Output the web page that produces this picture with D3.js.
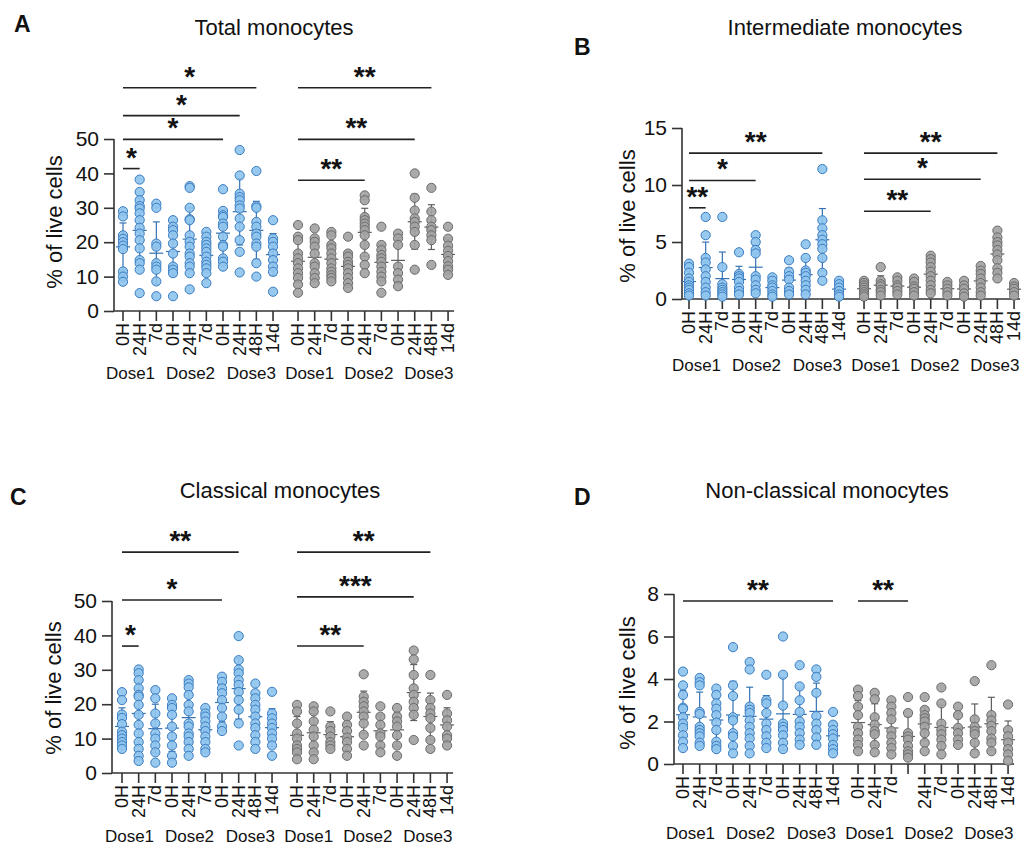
<!DOCTYPE html>
<html><head><meta charset="utf-8">
<script src="https://cdn.jsdelivr.net/npm/d3@7"></script>
<style>
body{margin:0;background:#fff;}
svg{display:block;}
text{font-family:Arial,"Liberation Sans",sans-serif;fill:#111;}
</style>
</head><body>
<svg id="chart" width="1023" height="850"></svg>
<script>
// ---------------- DATA ----------------
const timeLabels = ["0H","24H","7d","0H","24H","7d","0H","24H","48H","14d"];
const timeLabelsNonClassicalGrey = ["0H","24H","7d","","24H","7d","0H","24H","48H","14d"];
const doseLabels = ["Dose1","Dose2","Dose3"];

// Total monocytes (% of live cells)
const totalBlue = [
  [29,27.5,22,21,20,19,18,11.5,10,8.5],
  [38.2,34.6,32.2,30.5,29.8,28.4,26.4,24.2,22.5,20.6,18.2,14.8,13.9,12,5.2],
  [31.2,30,19.6,18.7,13.9,12.9,12,8.6,4.3],
  [26.4,24.5,23.5,22,19.6,16.7,12.9,12,11,4.3],
  [36.3,35.8,30,26.7,26.4,22,20.1,18.7,16.7,15.8,13.9,12.9,11,6.3],
  [23,21.6,20.1,19.2,18.2,17.2,15.8,14.3,13.4,12.4,11,8.1],
  [35.4,29.1,27.8,27.3,25.4,24.5,21.6,19.2,18.7,15.3,14.3,12.9],
  [46.8,39.4,34.1,33.1,32.2,30.7,29.8,26.9,24.5,20.6,17.2,11.2],
  [40.7,30.5,30,25.9,24.5,22.5,21.6,19.6,18.7,13.9,10],
  [26.4,21.1,20.1,18.7,16.7,14.8,12.9,11.4,5.6]
];
const totalGrey = [
  [25,21.6,20.6,16.7,15.3,13.9,12.4,11,9.6,7.7,5.3],
  [24,21.1,20.1,18.7,16.7,13.9,12.9,11,9.6,8.1],
  [23,22,19.2,18.2,16.7,15.3,13.9,12.4,11.4,10.4,9.6,8.6],
  [21.6,16.7,15.8,14.3,13.4,12.4,11,9.6,8.1,6.7],
  [33.6,32.2,27.3,26.4,25.4,24.5,23.5,22,19.2,15.8,13.4,11],
  [24.5,19.2,17.7,16.3,15.3,14.3,12.9,11.4,10,8.6,5.3],
  [22.5,21.1,19.2,12.9,11,9.1,7.2],
  [40,32.9,29.2,26.9,25.9,24.5,23,19.2,12],
  [35.8,28.9,26.4,24.5,23.5,22,20.6,13.4],
  [24.5,21,19,17.5,16,14.5,13,12,10.5]
];
// Intermediate monocytes
const interBlue = [
  [3.1,2.8,2.3,1.8,1.5,1.2,1.0,0.8,0.5,0.3],
  [7.2,5.6,3.6,3.2,2.6,2.0,1.5,1.0,0.6,0.3],
  [7.2,2.8,1.3,1.0,0.8,0.6,0.4,0.2],
  [4.1,2.2,2.0,1.8,1.5,1.0,0.7,0.4],
  [5.6,5.0,4.3,4.0,2.0,1.7,1.2,0.8,0.5],
  [1.9,1.6,1.2,1.0,0.7,0.4,0.2],
  [3.4,2.4,2.0,1.7,1.0,0.7,0.4],
  [4.8,3.6,2.5,2.3,2.0,1.6,1.2,0.8,0.4],
  [11.4,6.9,6.2,5.6,5.2,4.8,4.4,3.6,2.3,1.6],
  [1.6,1.3,1.0,0.7,0.4,0.2]
];
const interGrey = [
  [1.6,1.4,1.2,1.0,0.8,0.6,0.4,0.2],
  [2.8,1.6,1.3,1.1,0.8,0.6,0.3],
  [1.9,1.6,1.2,1.0,0.7,0.4],
  [1.8,1.5,1.1,0.9,0.6,0.3],
  [3.8,3.5,3.2,2.8,2.4,2.0,1.6,1.2,0.8,0.5],
  [1.5,1.2,0.9,0.6,0.3],
  [1.6,1.2,0.9,0.5,0.2],
  [2.9,2.5,2.2,1.8,1.4,1.0,0.6,0.3],
  [6.0,5.4,5.0,4.7,4.3,3.9,3.4,2.7,2.3,1.8],
  [1.4,1.1,0.9,0.6,0.3]
];
// Classical monocytes
const classBlue = [
  [23.5,21.2,17,16,14.2,12,11,10,9,8,7],
  [30.1,29,27,24.6,22.7,22.2,19.8,16.9,14,11.5,9,7,5,3.5],
  [24.1,21.7,17.3,14.4,11.5,10,8,6,3],
  [21.7,19.8,18.9,16.9,13.5,10.6,8,5,3],
  [27,26,24.9,22.7,19.8,17.9,14.4,13.5,11.5,10.6,9,7,5],
  [18.9,17.3,16.4,15,13.5,12.2,10.6,9,7,6],
  [28,26.5,24.6,23.2,21.2,18.9,16.4,13.5,12.2],
  [39.8,32.8,30.1,29,27,25.6,23.6,21.2,18.4,14.4,8],
  [26,23.2,21.7,19.8,18.4,16.4,14.4,13.1,11,9,7],
  [23.6,17.3,15.9,14.4,13.1,11.5,10,8,5]
];
const classGrey = [
  [19.8,17.9,14.4,11.5,10,8,7,6,4],
  [19.4,17.9,15,12.6,10.6,8,6,4],
  [17.9,13.5,12.2,10.6,9,8,7],
  [16.4,14,12.2,10.3,9,7,5],
  [28.7,22.2,20.7,19.4,17.9,16.4,14.4,11.1,8],
  [19.4,16.4,14,11.5,10.6,8,6],
  [18.9,16.4,15,13.5,11,8,5],
  [35.6,33,28.5,24.6,22.7,20.7,18.9,16.9,9.6],
  [28.5,21.2,18.9,17.3,15.9,13.1,9.6,7],
  [22.7,17.3,15.3,13.5,11,10,8]
];
// Non-classical monocytes
const nonBlue = [
  [4.35,3.7,3.25,2.65,2.6,2.2,1.9,1.7,1.35,1.05,0.75],
  [4.05,3.85,3.7,2.45,2.35,1.75,1.6,1.45,1.3,1.0,0.85],
  [3.55,3.25,2.85,2.6,2.3,1.95,1.6,1.05,0.85,0.7],
  [5.5,3.7,3.2,2.2,2.05,1.45,1.3,0.85,0.5],
  [4.8,4.45,2.7,2.55,2.4,2.05,1.75,1.45,1.2,0.85,0.5],
  [4.2,3.0,2.85,2.4,1.9,1.6,1.3,1.0,0.75],
  [6.0,4.2,2.75,1.9,1.75,1.6,1.35,1.0,0.7],
  [4.65,3.65,3.0,2.45,2.0,1.75,1.45,1.15,0.9],
  [4.45,4.1,3.35,2.25,1.9,1.6,1.25,0.9],
  [2.45,1.85,1.6,1.4,1.2,0.9,0.7,0.5]
];
const nonGrey = [
  [3.5,3.2,2.7,2.3,1.75,1.45,1.15,0.9,0.6],
  [3.35,3.05,2.2,1.85,1.55,1.4,0.9,0.55],
  [3.0,2.7,2.4,2.1,1.55,1.3,1.0,0.75,0.45],
  [3.15,2.4,1.45,1.3,1.15,0.85,0.6,0.45,0.3],
  [3.15,2.55,2.3,2.15,2.0,1.75,1.45,1.0,0.6],
  [3.6,2.85,1.9,1.6,1.4,1.15,0.85,0.45],
  [2.7,2.3,1.7,1.45,1.15,0.9],
  [3.9,2.1,1.75,1.55,1.4,1.0,0.5],
  [4.65,2.3,2.05,1.8,1.55,1.2,1.0,0.6],
  [2.8,1.6,1.3,1.0,0.7,0.45,0.15]
];

// significance brackets: group, from column, to column, level (data units), label
const totalSig = [
  {group:"blue",from:0,to:1,level:41.4,label:"*"},
  {group:"blue",from:0,to:6,level:49.9,label:"*"},
  {group:"blue",from:0,to:7,level:56.8,label:"*"},
  {group:"blue",from:0,to:8,level:64.9,label:"*"},
  {group:"grey",from:0,to:4,level:38.0,label:"**"},
  {group:"grey",from:0,to:7,level:49.9,label:"**"},
  {group:"grey",from:0,to:8,level:64.9,label:"**"}
];
const interSig = [
  {group:"blue",from:0,to:1,level:8.0,label:"**"},
  {group:"blue",from:0,to:4,level:10.4,label:"*"},
  {group:"blue",from:0,to:8,level:12.8,label:"**"},
  {group:"grey",from:0,to:4,level:7.7,label:"**"},
  {group:"grey",from:0,to:7,level:10.5,label:"*"},
  {group:"grey",from:0,to:8,level:12.8,label:"**"}
];
const classSig = [
  {group:"blue",from:0,to:1,level:36.9,label:"*"},
  {group:"blue",from:0,to:6,level:50.3,label:"*"},
  {group:"blue",from:0,to:7,level:64.2,label:"**"},
  {group:"grey",from:0,to:4,level:36.9,label:"**"},
  {group:"grey",from:0,to:7,level:51.2,label:"***"},
  {group:"grey",from:0,to:8,level:64.2,label:"**"}
];
const nonSig = [
  {group:"blue",from:0,to:9,level:7.67,label:"**"},
  {group:"grey",from:0,to:3,level:7.67,label:"**"}
];

const totalTicks = [0,10,20,30,40,50];
const interTicks = [0,5,10,15];
const classTicks = [0,10,20,30,40,50];
const nonTicks = [0,2,4,6,8];

// ---------------- LAYOUT / STYLE ----------------
const doseLabelCols = {blue:[0.45, 4.05, 7.7], grey:[0.7, 4.25, 7.85]};   // label centres, in column units
const colors = {
  blue:{fill:"#8fc4ee", stroke:"#3a7cc0", bar:"#3572b3"},
  grey:{fill:"#a3a3a3", stroke:"#6b6b6b", bar:"#5e5e5e"}
};
const panels = [
  {letter:"A", title:"Total monocytes", blue:totalBlue, grey:totalGrey, ticks:totalTicks, sig:totalSig,
   greyLabels:timeLabels,
   L:{axisX:114,y0:311,yTop:139,x0:123,step:16.67,letterX:14,letterY:32,titleX:274,titleY:35,ylx:54,yly:222,doseY:379}},
  {letter:"B", title:"Intermediate monocytes", blue:interBlue, grey:interGrey, ticks:interTicks, sig:interSig,
   greyLabels:timeLabels,
   L:{axisX:682,y0:299,yTop:128,x0:689,step:16.67,letterX:574,letterY:55,titleX:845,titleY:35,ylx:627,yly:216,doseY:371}},
  {letter:"C", title:"Classical monocytes", blue:classBlue, grey:classGrey, ticks:classTicks, sig:classSig,
   greyLabels:timeLabels,
   L:{axisX:112,y0:773,yTop:601,x0:122,step:16.67,letterX:10,letterY:505,titleX:280,titleY:498,ylx:53,yly:688,doseY:842}},
  {letter:"D", title:"Non-classical monocytes", blue:nonBlue, grey:nonGrey, ticks:nonTicks, sig:nonSig,
   greyLabels:timeLabelsNonClassicalGrey,
   L:{axisX:674,y0:764,yTop:594,x0:683,step:16.67,letterX:574,letterY:505,titleX:827,titleY:498,ylx:627,yly:683,doseY:839}}
];

const svg = d3.select("#chart");
const GROUP_OFFSET = 10.5;

panels.forEach(p => {
  const L = p.L;
  const g = svg.append("g");
  const yMax = d3.max(p.ticks);
  const y = d3.scaleLinear().domain([0, yMax]).range([L.y0, L.yTop]);
  const x = d3.scaleLinear().domain([0, 1]).range([L.x0, L.x0 + L.step]);
  const colX = (group, i) => x(group === "blue" ? i : i + GROUP_OFFSET);
  const lastX = colX("grey", 9);

  // letter and title
  g.append("text").attr("x", L.letterX).attr("y", L.letterY).attr("font-size", 23).attr("font-weight", "bold").text(p.letter);
  g.append("text").attr("x", L.titleX).attr("y", L.titleY).attr("font-size", 22).attr("text-anchor", "middle").text(p.title);

  // y axis
  const yAxis = d3.axisLeft(y).tickValues(p.ticks).tickSize(10).tickPadding(5);
  const ya = g.append("g").attr("transform", `translate(${L.axisX},0)`).call(yAxis);
  ya.select(".domain").attr("d", `M0,${L.y0}V${L.yTop}`).attr("stroke", "#333").attr("stroke-width", 1.6);
  ya.selectAll(".tick line").attr("stroke", "#333").attr("stroke-width", 1.6);
  ya.selectAll(".tick text").attr("font-size", 21).attr("fill", "#111").style("font-family", "Arial, 'Liberation Sans', sans-serif");

  // y label
  g.append("text").attr("transform", `translate(${L.ylx},${L.yly}) rotate(-90)`)
    .attr("text-anchor", "middle").attr("dominant-baseline", "central").attr("font-size", 22).text("% of live cells");

  // x axis line
  g.append("line").attr("x1", L.axisX).attr("x2", lastX + 6).attr("y1", L.y0).attr("y2", L.y0)
    .attr("stroke", "#333").attr("stroke-width", 1.6);

  ["blue","grey"].forEach(group => {
    const data = p[group];
    const c = colors[group];
    const labels = group === "blue" ? timeLabels : p.greyLabels;
    // ticks + labels
    labels.forEach((lab, i) => {
      const cx = colX(group, i);
      g.append("line").attr("x1", cx).attr("x2", cx).attr("y1", L.y0).attr("y2", L.y0 + 10)
        .attr("stroke", "#333").attr("stroke-width", 1.6);
      g.append("text").attr("transform", `translate(${cx},${L.y0 + 12}) rotate(-90)`)
        .attr("text-anchor", "end").attr("dominant-baseline", "central").attr("font-size", 18).text(lab);
    });
    // dose labels
    doseLabels.forEach((d, k) => {
      g.append("text").attr("x", colX(group, doseLabelCols[group][k])).attr("y", L.doseY)
        .attr("text-anchor", "middle").attr("font-size", 17).text(d);
    });
    // error bars (mean ± SD)
    data.forEach((vals, i) => {
      const cx = colX(group, i);
      const m = d3.mean(vals), sd = d3.deviation(vals);
      const lo = Math.max(0, m - sd), hi = m + sd;
      const eg = g.append("g").attr("stroke", c.bar).attr("stroke-width", 1.2);
      eg.append("line").attr("x1", cx).attr("x2", cx).attr("y1", y(lo)).attr("y2", y(hi));
      eg.append("line").attr("x1", cx - 3.5).attr("x2", cx + 3.5).attr("y1", y(hi)).attr("y2", y(hi));
      eg.append("line").attr("x1", cx - 3.5).attr("x2", cx + 3.5).attr("y1", y(lo)).attr("y2", y(lo));
      eg.append("line").attr("x1", cx - 7).attr("x2", cx + 7).attr("y1", y(m)).attr("y2", y(m));
    });
    // points
    data.forEach((vals, i) => {
      const cx = colX(group, i);
      g.selectAll(null).data(vals).enter().append("circle")
        .attr("cx", cx).attr("cy", d => y(d)).attr("r", 4.6)
        .attr("fill", c.fill).attr("fill-opacity", 0.92)
        .attr("stroke", c.stroke).attr("stroke-width", 1);
    });
  });

  // significance brackets
  p.sig.forEach(s => {
    const x1 = colX(s.group, s.from), x2 = colX(s.group, s.to);
    const yy = y(s.level);
    g.append("line").attr("x1", x1).attr("x2", x2).attr("y1", yy).attr("y2", yy)
      .attr("stroke", "#222").attr("stroke-width", 1.6);
    g.append("text").attr("x", (x1 + x2) / 2).attr("y", yy - 2).attr("text-anchor", "middle")
      .attr("font-size", 28).attr("font-weight", "bold").text(s.label);
  });
});
</script>
</body></html>
